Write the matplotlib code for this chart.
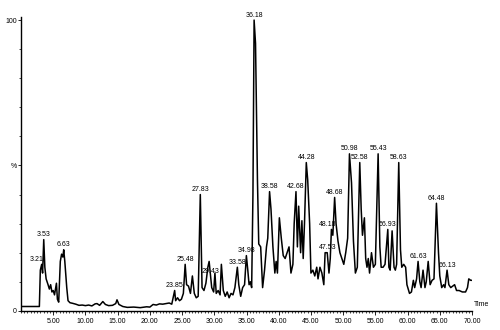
import numpy as np
import matplotlib
matplotlib.use("Agg")
import matplotlib.pyplot as plt
from matplotlib.ticker import MultipleLocator, FixedLocator

plt.rcParams['font.family'] = ['Liberation Sans', 'DejaVu Sans']

# Cromatograma: tiempo (min) y abundancia relativa (%)
tiempo = [0.0, 2.85, 3.0, 3.21, 3.35, 3.53, 3.7, 3.9, 4.2, 4.4, 4.6, 4.8, 5.0, 5.2, 5.5, 5.65,
          5.85, 6.1, 6.3, 6.5, 6.63, 6.8, 7.1, 7.3, 7.6, 8.0, 8.5, 9.0, 9.5, 10.0, 10.5, 11.0,
          11.5, 11.8, 12.2, 12.7, 13.1, 13.6, 14.2, 14.7, 14.9, 15.2, 15.8, 16.5, 17.5, 18.5,
          19.5, 20.0, 20.5, 21.0, 21.5, 22.0, 22.5, 23.0, 23.4, 23.85, 24.0, 24.3, 24.6, 24.9,
          25.2, 25.48, 25.7, 26.0, 26.3, 26.6, 26.9, 27.2, 27.5, 27.83, 28.1, 28.4, 28.7, 29.0,
          29.2, 29.43, 29.6, 29.9, 30.1, 30.3, 30.6, 30.9, 31.1, 31.4, 31.7, 32.0, 32.3, 32.6,
          32.9, 33.2, 33.58, 33.8, 34.1, 34.4, 34.7, 34.98, 35.2, 35.4, 35.6, 35.8, 36.0, 36.18,
          36.4, 36.7, 36.9, 37.2, 37.5, 37.8, 38.1, 38.3, 38.58, 38.8, 39.1, 39.4, 39.6, 39.8,
          40.1, 40.4, 40.7, 41.0, 41.3, 41.6, 41.9, 42.2, 42.4, 42.68, 42.9, 43.1, 43.4, 43.6,
          43.8, 44.0, 44.28, 44.5, 44.8, 45.0, 45.3, 45.6, 45.9, 46.1, 46.4, 46.7, 47.0, 47.2,
          47.53, 47.8, 48.0, 48.18, 48.4, 48.68, 48.9, 49.2, 49.5, 49.8, 50.1, 50.4, 50.7, 50.98,
          51.3, 51.6, 51.9, 52.2, 52.58, 52.8, 53.0, 53.3, 53.5, 53.7, 53.9, 54.1, 54.4, 54.7,
          55.0, 55.43, 55.7, 55.9, 56.2, 56.5, 56.93, 57.1, 57.3, 57.6, 57.9, 58.1, 58.3, 58.63,
          58.9, 59.1, 59.4, 59.7, 59.9, 60.3, 60.6, 60.9, 61.1, 61.4, 61.63, 61.9, 62.1, 62.4,
          62.7, 62.9, 63.2, 63.5, 63.8, 64.1, 64.48, 64.8, 65.0, 65.3, 65.6, 65.8, 66.13, 66.4,
          66.7, 67.0, 67.3, 67.6, 68.0, 68.5, 69.0, 69.3, 69.5, 69.8, 70.0]
abundancia = [1.5, 1.5, 14, 16, 13, 24.5, 15, 11, 9, 7.5, 9, 6.5, 7, 5.5, 9.5, 4,
              3, 17, 19.5, 18.5, 21, 17, 8, 3.5, 2.8, 2.6, 2.3, 1.9, 2.0, 1.8, 2.0, 1.7,
              2.4, 2.5, 1.9, 3.2, 2.2, 1.8, 1.9, 2.5, 3.8, 2.2, 1.5, 1.2, 1.3, 1.1,
              1.4, 1.3, 2.2, 2.0, 2.4, 2.3, 2.5, 2.7, 2.3, 7, 3.5, 4.5, 3.5, 4.0,
              6, 16, 9, 8.5, 6, 12, 6, 4.5, 5, 40, 8, 7, 9.5, 15,
              17, 12, 8, 6.5, 13, 6, 7, 5.5, 16, 7, 5, 6.5, 4.5, 6,
              5.5, 8, 15, 9, 5, 8, 9, 19, 14, 9, 10, 8, 40, 100,
              92, 45, 23, 22, 8, 14, 22, 25, 41, 35, 22, 13, 17, 13,
              32, 25, 19, 18, 20, 22, 13, 16, 30, 41, 22, 36, 20, 31,
              18, 30, 51, 45, 30, 13, 14, 12, 15, 11, 15, 13, 9, 20,
              20, 13, 18, 28, 26, 39, 30, 24, 20, 18, 16, 20, 25, 54,
              44, 24, 13, 15, 51, 35, 26, 32, 18, 15, 18, 13, 20, 15,
              16, 54, 22, 15, 15, 16, 28, 15, 14, 27.5, 15, 14, 16, 51,
              21, 15, 16, 15, 9, 6, 6.5, 10.5, 8, 11, 17, 10, 8, 14,
              8, 10, 17, 9, 10.5, 11, 37, 20, 12, 8, 9, 8, 14, 9,
              8, 8.5, 9, 7, 7, 6.5, 6.5, 8, 11, 10.5, 10.5]

# Picos etiquetados
picos = [3.21, 3.53, 6.63, 23.85, 25.48, 27.83, 29.43, 33.58, 34.98, 36.18, 38.58, 42.68,
         44.28, 47.53, 48.18, 48.68, 50.98, 52.58, 55.43, 56.93, 58.63, 61.63, 64.48, 66.13]

fig = plt.figure(figsize=(5.0, 3.3), dpi=100)
ax = fig.add_axes([0.042, 0.058, 0.902, 0.89])
ax.plot(tiempo, abundancia, color='black', lw=1.1)

# etiquetas de picos
desplaz = {3.21: -4, 48.18: -3}
for p in picos:
    y = abundancia[tiempo.index(p)]
    ax.annotate("%.2f" % p, xy=(p, y), xytext=(desplaz.get(p, 0), 1),
                textcoords='offset points', ha='center', va='bottom', fontsize=5)

ax.set_xlim(0, 70)
ax.set_ylim(0, 101)
for s in ['top', 'right']:
    ax.spines[s].set_visible(False)
ax.spines['left'].set_linewidth(1.0)
ax.spines['bottom'].set_linewidth(1.0)

ax.xaxis.set_major_locator(FixedLocator(np.arange(5, 71, 5)))
ax.set_xticklabels(["%.2f" % v for v in np.arange(5, 71, 5)])
ax.xaxis.set_minor_locator(MultipleLocator(0.5))
ax.tick_params(axis='x', which='major', length=3, width=0.6, labelsize=5, pad=2)
ax.tick_params(axis='x', which='minor', length=1.5, width=0.5)

ax.set_yticks([0, 50, 100])
ax.set_yticklabels(["0", "%", "100"])
ax.yaxis.set_minor_locator(MultipleLocator(10))
ax.tick_params(axis='y', which='major', length=2, width=0.6, labelsize=5, pad=1)
ax.tick_params(axis='y', which='minor', length=1.5, width=0.5)

ax.text(1.005, 0.01, "Time", transform=ax.transAxes, fontsize=5, ha='left', va='bottom')

fig.savefig("out.png", dpi=100)
